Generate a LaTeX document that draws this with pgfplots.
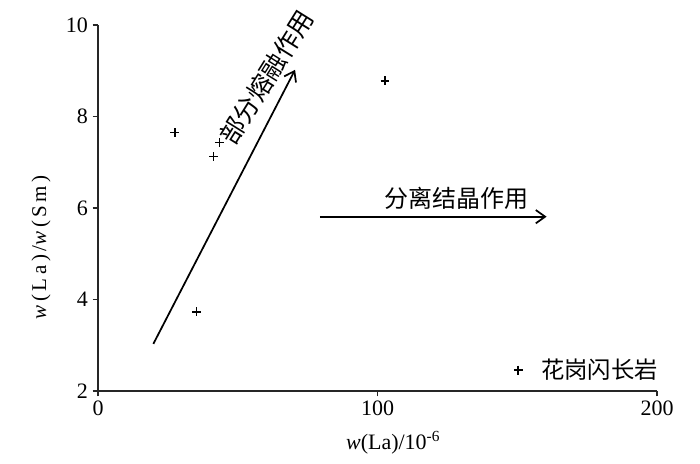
\documentclass[border=0pt]{standalone}
\usepackage{pgfplots}
\pgfplotsset{compat=1.18}
\usepackage{fontspec}
\setmainfont{Liberation Serif}
\newfontfamily\cjk{Noto Sans CJK SC}
\newfontfamily\spaced[LetterSpace=17]{Liberation Serif}
\usetikzlibrary{arrows.meta}
\begin{document}
\begin{tikzpicture}[x=1pt,y=1pt]
\useasboundingbox (0,0) rectangle (525,348);
\begin{axis}[
  at={(73.5pt,54.75pt)}, anchor=south west,
  scale only axis, width=419.25pt, height=274.5pt,
  xmin=0, xmax=200, ymin=2, ymax=10,
  clip=false,
  axis lines*=left,
  axis line style={line width=1pt, black!85},
  xtick={0,100,200}, ytick={2,4,6,8,10},
  tick align=outside, major tick length=4pt,
  tick style={line width=1pt, black!85},
  minor tick num=0,
  ticklabel style={font=\fontsize{16.5}{18}\selectfont},
  /pgf/number format/assume math mode=true,
  xlabel={\textit{w}(La)/10\textsuperscript{-6}},
  xlabel style={at={(axis description cs:0.528,-0.142)}, anchor=center, font=\fontsize{16.5}{18}\selectfont},
  ylabel={\spaced\textit{w}(La)/\textit{w}(Sm)},
  ylabel style={at={(axis description cs:-0.102,0.393)}, anchor=center, font=\fontsize{15.75}{18}\selectfont},
  legend style={draw=none, fill=none, at={(axis description cs:1.014,0.057)}, anchor=east, font=\cjk\fontsize{17.5}{20}\selectfont},
  legend cell align=left,
]
\addplot[only marks, mark=+, mark size=3.3pt, line width=1.1pt, black] coordinates {
  (27.5,7.65) (43.4,7.43) (41.3,7.12) (35.3,3.73) (102.7,8.78)
};
\addlegendentry{\hspace{12pt}花岗闪长岩}
\draw[line width=1.3pt, -{Straight Barb[length=7pt,width=10pt]}] (axis cs:19.8,3.03) -- (axis cs:70.5,9.02);
\draw[line width=1.3pt, -{Straight Barb[length=7pt,width=10pt]}] (axis cs:79.4,5.81) -- (axis cs:160.5,5.81);
\node[rotate=58, font=\cjk\fontsize{19}{21}\selectfont, xshift=-1.5pt, yshift=4pt] at (axis cs:62.3,8.84) {部分熔融作用};
\node[font=\cjk\fontsize{18}{20}\selectfont] at (axis cs:128.1,6.2) {分离结晶作用};
\end{axis}
\end{tikzpicture}
\end{document}
